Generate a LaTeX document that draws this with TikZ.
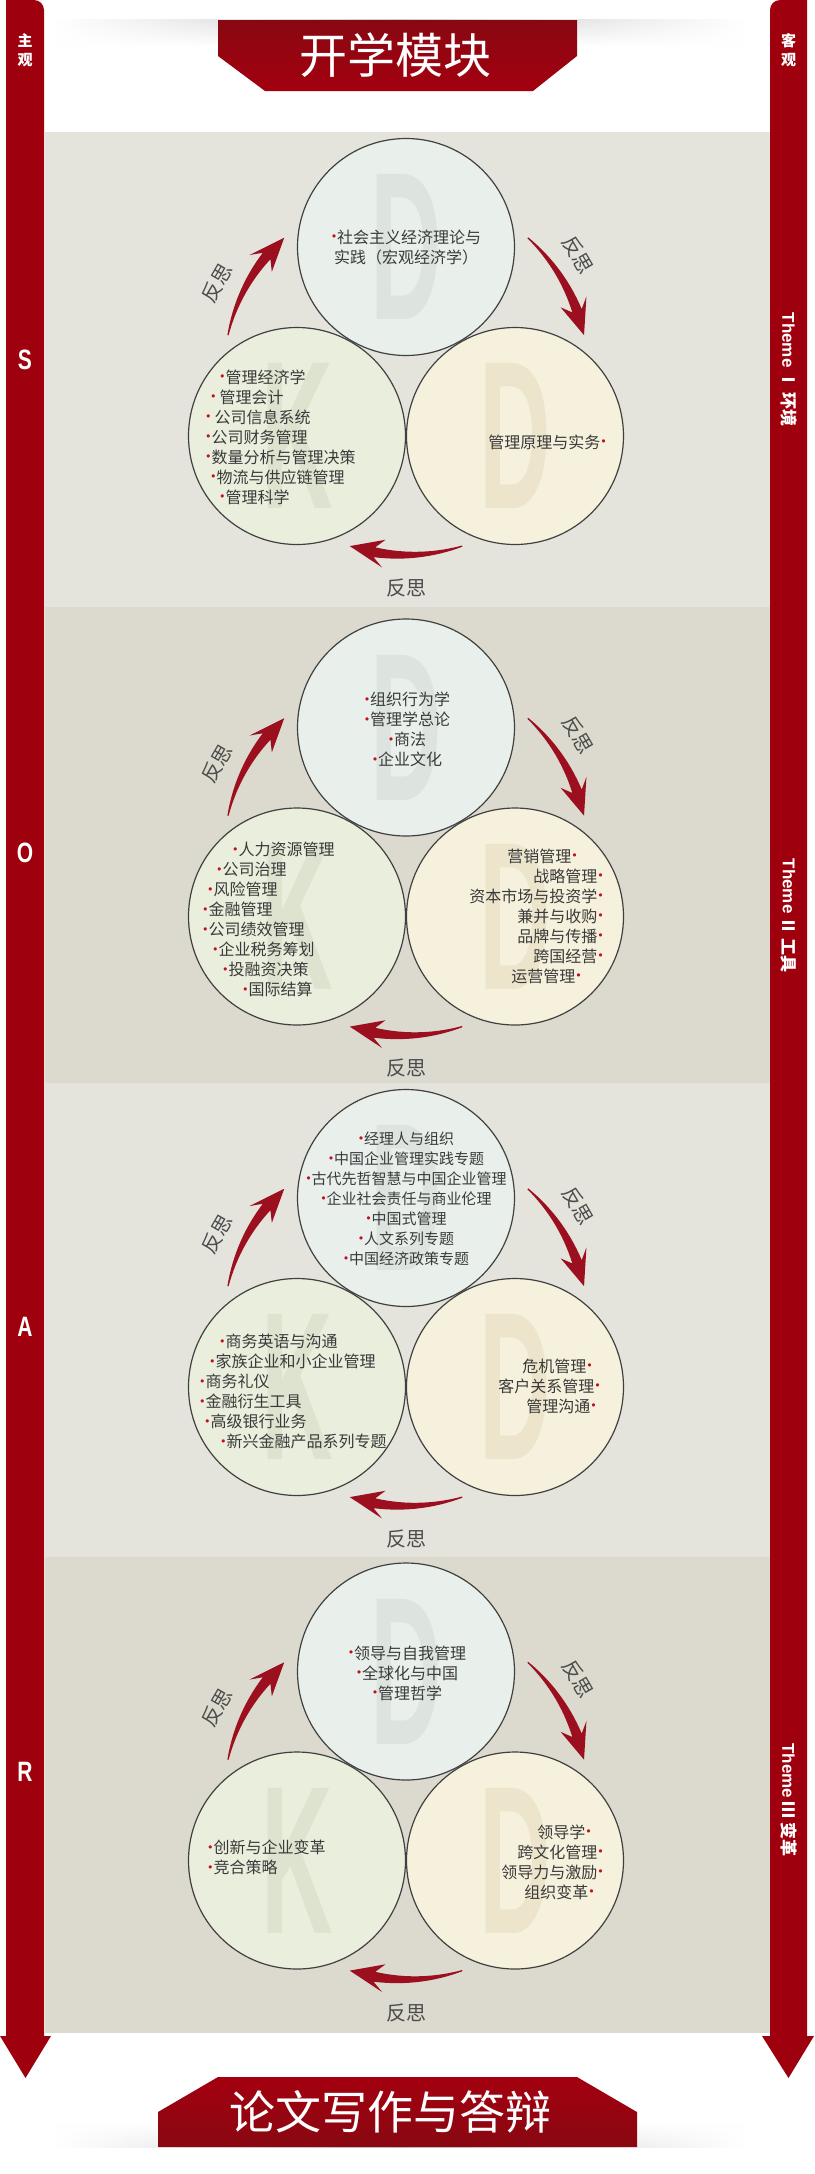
\documentclass[tikz,border=0pt]{standalone}
\usepackage{fontspec}
\setmainfont{Noto Sans CJK SC}
\newfontfamily\latinbold{Liberation Sans}
\newfontfamily\dejavu{DejaVu Sans}
\usetikzlibrary{fadings}

\definecolor{barred}{HTML}{9E000E}
\definecolor{boxtop}{HTML}{880812}
\definecolor{boxbot}{HTML}{A4000F}
\definecolor{panela}{HTML}{E4E4DD}
\definecolor{panelb}{HTML}{DCD9CE}
\definecolor{topfill}{HTML}{E9EFEB}
\definecolor{leftfill}{HTML}{EAEEDD}
\definecolor{rightfill}{HTML}{F6F1DC}
\definecolor{topmark}{HTML}{DDE4E0}
\definecolor{leftmark}{HTML}{DEE3D0}
\definecolor{rightmark}{HTML}{ECE5CC}
\definecolor{arrowred}{HTML}{9B0F1E}
\definecolor{dotred}{HTML}{C0101E}
\definecolor{textgray}{HTML}{3A3A3A}

\tikzset{
  kbdcirc/.style={circle, draw=black!75, line width=1.2pt, minimum size=217pt, inner sep=0pt},
  wmark/.style={font=\latinbold\bfseries\fontsize{211}{211}\selectfont, xscale=0.47, inner sep=0pt},
  items/.style={font=\fontsize{16}{20}\selectfont, text=textgray, inner sep=0pt},
  rethink/.style={font=\fontsize{20}{20}\selectfont, text=black!70, inner sep=0pt},
  bartext/.style={text=white, font=\bfseries\fontsize{15}{19}\selectfont, align=center, inner sep=0pt},
  soar/.style={text=white, font=\latinbold\bfseries\fontsize{28}{28}\selectfont, xscale=0.75, inner sep=0pt},
  theme/.style={text=white, font=\bfseries\fontsize{17}{17}\selectfont, rotate=-90, inner sep=0pt},
  title/.style={text=white, inner sep=0pt}
}

\newcommand\dotmark{\textcolor{dotred}{\raisebox{2.5pt}{\dejavu\fontsize{11}{11}\selectfont •}}}

\newcommand\reflarrow[1]{%
  \pgfmathsetmacro\arrTail{#1+18}\pgfmathsetmacro\arrBody{#1-10}%
  \pgfmathsetmacro\arrBarb{#1-7}\pgfmathsetmacro\arrTip{#1-18}%
  \fill[arrowred] plot[domain=\arrTail:\arrBody, samples=16] (\x:{182.6+4.4*(\arrTail-\x)/28})
    -- (\arrBarb:196) -- (\arrTip:182) -- (\arrBarb:168)
    -- plot[domain=\arrBody:\arrTail, samples=16] (\x:{181.4-4.4*(\arrTail-\x)/28}) -- cycle;
}

\newcommand\kbdgroup[2]{%
  \begin{scope}[shift={(406,-#2)}]
    \node[kbdcirc, fill=topfill] (t#1) at (0,0) {};
    \node[kbdcirc, fill=leftfill] (l#1) at (-109,-189) {};
    \node[kbdcirc, fill=rightfill] (r#1) at (109,-189) {};
    \node[wmark, text=topmark] (tm#1) at (t#1) {D};
    \node[wmark, text=leftmark] (lm#1) at (l#1) {K};
    \node[wmark, text=rightmark] (rm#1) at (r#1) {D};
    \coordinate (c#1) at (0,-126);
  \end{scope}
  \begin{scope}[shift={(c#1)}]
    \foreach \c in {150,30,270} {\reflarrow{\c}}
    \node[rethink, rotate=60] (fl#1) at (154.5:209) {反思};
    \node[rethink, rotate=-60] (fr#1) at (34.5:209) {反思};
    \node[rethink] (fb#1) at (270:215) {反思};
  \end{scope}
}

\begin{document}
\begin{tikzpicture}[x=1pt,y=1pt]
\useasboundingbox (0,0) rectangle (814,-2174);
\fill[white] (0,0) rectangle (814,-2174);

\fill[panela] (45,-132) rectangle (770,-607);
\fill[panelb] (45,-607) rectangle (770,-1083);
\fill[panela] (45,-1083) rectangle (770,-1557);
\fill[panelb] (45,-1557) rectangle (770,-2033);

% side bars
\fill[barred] (6,0) -- (34,0) arc[start angle=90, end angle=0, radius=10] -- (44,-2036)
  -- (51,-2036) -- (25.5,-2078) -- (0,-2036) -- (6,-2036) -- cycle;
\fill[barred] (807,0) -- (780,0) arc[start angle=90, end angle=180, radius=10] -- (770,-2036)
  -- (762,-2036) -- (788.5,-2078) -- (814,-2036) -- (807,-2036) -- cycle;
\node[bartext] (subj) at (25,-50) {主\\观};
\node[bartext] (obj) at (788.5,-50) {客\\观};
\foreach \l/\y in {S/360,O/853,A/1327,R/1772}
  \node[soar] (soar\l) at (25,-\y) {\l};
\node[theme] (th1) at (789,-369.5) {{\latinbold Theme} Ⅰ 环境};
\node[theme] (th2) at (789,-915.5) {{\latinbold Theme} Ⅱ 工具};
\node[theme] (th3) at (789,-1800) {{\latinbold Theme} Ⅲ 变革};

% title boxes
\shade[left color=white, right color=black!20, path fading=south] (52,-20) rectangle (400,-46);
\shade[left color=black!20, right color=white, path fading=south] (400,-20) rectangle (748,-46);
\shade[top color=boxtop, bottom color=boxbot] (218,-20) -- (577,-20) -- (577,-56) -- (533,-91)
  -- (265,-91) -- (218,-56) -- cycle;
\node[title, font=\fontsize{48}{48}\selectfont] (opening) at (395,-55) {开学模块};

\shade[left color=white, right color=black!20, path fading=north] (52,-2122) rectangle (400,-2147);
\shade[left color=black!20, right color=white, path fading=north] (400,-2122) rectangle (748,-2147);
\shade[top color=boxbot, bottom color=boxtop] (218,-2077) -- (577,-2077) -- (637,-2112) -- (637,-2147)
  -- (158,-2147) -- (158,-2112) -- cycle;
\node[title, font=\fontsize{46}{46}\selectfont] (thesis) at (390,-2112) {论文写作与答辩};

% Theme I
\kbdgroup{1}{247}
\node[items, align=center] (tt1) at (406,-247.5) {\dotmark 社会主义经济理论与\\实践（宏观经济学）};
\node[items, align=left, anchor=west] (lt1) at (205,-437) {\hspace*{14pt}\dotmark 管理经济学\\
  \hspace*{5pt}\dotmark\hspace{3pt}管理会计\\\dotmark\hspace{3pt}公司信息系统\\\dotmark 公司财务管理\\
  \dotmark 数量分析与管理决策\\\hspace*{5pt}\dotmark 物流与供应链管理\\\hspace*{14pt}\dotmark 管理科学};
\node[items, align=right, anchor=east] (rt1) at (607,-442) {管理原理与实务\dotmark};

% Theme II
\kbdgroup{2}{727.5}
\node[items, align=center] (tt2) at (407,-729.5) {\dotmark 组织行为学\\\dotmark 管理学总论\\
  \dotmark 商法\\\dotmark 企业文化};
\node[items, align=left, anchor=west] (lt2) at (202,-919.5) {\hspace*{30pt}\dotmark 人力资源管理\\
  \hspace*{14pt}\dotmark 公司治理\\\hspace*{5pt}\dotmark 风险管理\\\dotmark 金融管理\\
  \dotmark 公司绩效管理\\\hspace*{10pt}\dotmark 企业税务筹划\\\hspace*{20pt}\dotmark 投融资决策\\
  \hspace*{40pt}\dotmark 国际结算};
\node[items, align=right, anchor=east] (rt2) at (604,-916) {营销管理\dotmark\hspace*{26pt}\\
  战略管理\dotmark\hspace*{17pt}\\资本市场与投资学\dotmark\hspace*{9pt}\\兼并与收购\dotmark\\
  品牌与传播\dotmark\hspace*{5pt}\\跨国经营\dotmark\hspace*{12pt}\\运营管理\dotmark\hspace*{22pt}};

\kbdgroup{3}{1198}
\node[items, align=center, font=\fontsize{15}{20}\selectfont] (tt3) at (406,-1199) {\dotmark 经理人与组织\\
  \dotmark 中国企业管理实践专题\\\dotmark 古代先哲智慧与中国企业管理\\\dotmark 企业社会责任与商业伦理\\
  \dotmark 中国式管理\\\dotmark 人文系列专题\\\dotmark 中国经济政策专题};
\node[items, align=left, anchor=west] (lt3) at (199,-1391.5) {\hspace*{20pt}\dotmark 商务英语与沟通\\
  \hspace*{10pt}\dotmark 家族企业和小企业管理\\\dotmark 商务礼仪\\\dotmark 金融衍生工具\\
  \hspace*{5pt}\dotmark 高级银行业务\\\hspace*{21pt}\dotmark 新兴金融产品系列专题};
\node[items, align=right, anchor=east] (rt3) at (601,-1386) {危机管理\dotmark\hspace*{8pt}\\
  客户关系管理\dotmark\\管理沟通\dotmark\hspace*{4pt}};

% Theme III
\kbdgroup{4}{1671.5}
\node[items, align=center] (tt4) at (407,-1673) {\dotmark 领导与自我管理\\\dotmark 全球化与中国\\
  \dotmark 管理哲学};
\node[items, align=left, anchor=west] (lt4) at (207,-1857.5) {\dotmark 创新与企业变革\\\dotmark 竞合策略};
\node[items, align=right, anchor=east] (rt4) at (604,-1862) {领导学\dotmark\hspace*{12pt}\\
  跨文化管理\dotmark\hspace*{1pt}\\领导力与激励\dotmark\\组织变革\dotmark\hspace*{9pt}};
\end{tikzpicture}
\end{document}
